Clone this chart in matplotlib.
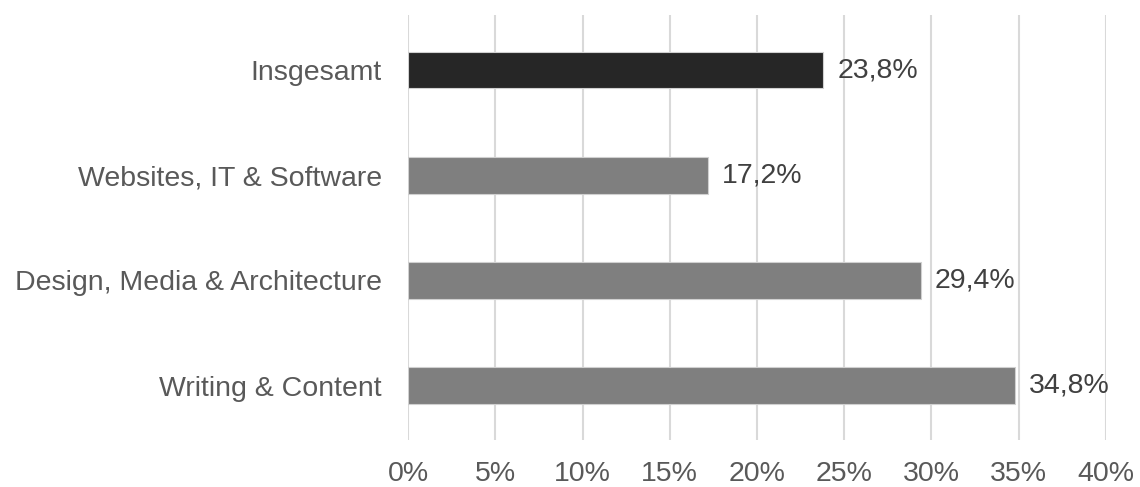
import matplotlib
matplotlib.use("Agg")
import matplotlib.pyplot as plt
from matplotlib.ticker import PercentFormatter

# data (top to bottom as shown)
categories = ["Insgesamt", "Websites, IT & Software", "Design, Media & Architecture", "Writing & Content"]
values = [23.8, 17.2, 29.4, 34.8]
bar_colors = ["#262626", "#7f7f7f", "#7f7f7f", "#7f7f7f"]
x_ticks = [0, 5, 10, 15, 20, 25, 30, 35, 40]

plt.rcParams["font.family"] = ["Liberation Sans", "DejaVu Sans"]
plt.rcParams["font.size"] = 20.5

fig = plt.figure(figsize=(11.4, 4.87), dpi=100)
ax = fig.add_axes([0.358, 0.097, 0.612, 0.872])

pos = list(range(len(categories)))[::-1]
ax.barh(pos, values, height=0.35, color=bar_colors, edgecolor="#d0d0d0", linewidth=0.8, zorder=3)

for p, v in zip(pos, values):
    ax.text(v + 0.8, p, "{:.1f}%".format(v).replace(".", ","), va="center", ha="left",
            color="#404040", fontsize=20.5)

ax.set_xlim(0, 40)
ax.set_ylim(-0.514, 3.522)
ax.set_xticks(x_ticks)
ax.xaxis.set_major_formatter(PercentFormatter(decimals=0))
ax.set_yticks(pos)
ax.set_yticklabels(categories)
ax.grid(axis="x", color="#d9d9d9", linewidth=1.5, zorder=0)
ax.grid(axis="y", visible=False)
for s in ax.spines.values():
    s.set_visible(False)
ax.tick_params(axis="both", length=0, colors="#595959", labelsize=20.5)
ax.tick_params(axis="x", pad=15)
ax.tick_params(axis="y", pad=19)

fig.savefig("out.png", dpi=100)
